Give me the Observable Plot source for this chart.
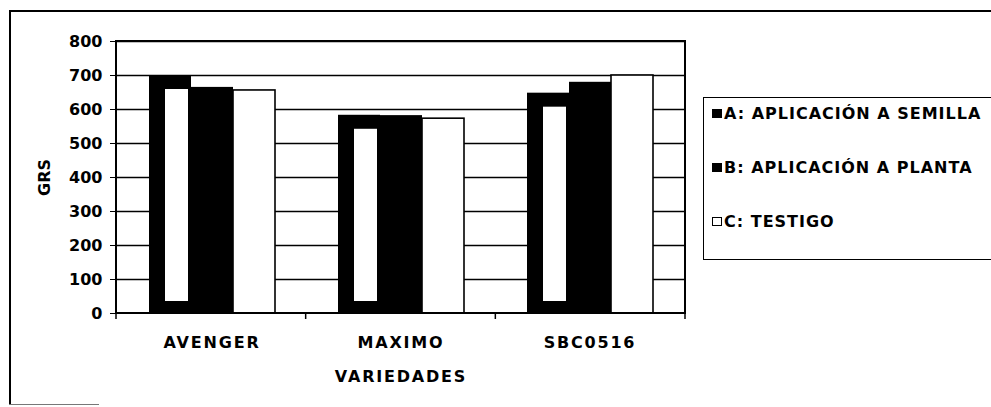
<!DOCTYPE html>
<html>
<head>
<meta charset="utf-8">
<script src="https://cdn.jsdelivr.net/npm/d3@7"></script>
<script src="https://cdn.jsdelivr.net/npm/@observablehq/plot@0.6"></script>
<style>
  html, body { margin: 0; padding: 0; background: #fff; width: 991px; height: 407px; overflow: hidden; }
  #frame { position: absolute; left: 9px; top: 10px; width: 1000px; height: 393px; border-top: 2px solid #000; border-left: 2px solid #000; }
  #bottomseg { position: absolute; left: 9px; top: 404px; width: 90px; height: 0; border-top: 1px solid #777; }
  #chart { position: absolute; left: 0; top: 0; }
  #chart svg { overflow: visible; }
  #chart [aria-label^="fx-axis"] text { letter-spacing: 1.8px; }
  #legend { position: absolute; left: 703px; top: 97px; width: 320px; height: 161px; border: 1.5px solid #000; background: #fff;
            font-family: "DejaVu Sans", sans-serif; font-weight: bold; font-size: 16px; letter-spacing: 1px; color: #000; }
  .item { position: absolute; left: 8px; height: 20px; display: flex; align-items: center; white-space: nowrap; }
  .sw { width: 10px; height: 9px; margin-right: 2px; box-sizing: border-box; border: 1.5px solid #000; }
</style>
</head>
<body>
<div id="frame"></div>
<div id="bottomseg"></div>
<div id="chart"></div>
<div id="legend"></div>
<script>
const categories = ["AVENGER", "MAXIMO", "SBC0516"];
const series = ["A", "B", "C"];
const seriesLabels = ["A: APLICACIÓN A SEMILLA", "B: APLICACIÓN A PLANTA", "C: TESTIGO"];
const seriesColors = ["#000", "#000", "#fff"];
const valuesA = [700, 583, 648];
const valuesB = [665, 582, 680];
const valuesC = [656, 573, 700];
const yTicks = [0, 100, 200, 300, 400, 500, 600, 700, 800];

const seriesValues = [valuesA, valuesB, valuesC];
const rows = categories.flatMap((cat, i) =>
  series.map((s, j) => ({cat, series: s, value: seriesValues[j][i]})));

const plot = Plot.plot({
  width: 700,
  height: 407,
  marginLeft: 116,
  marginTop: 41,
  marginRight: 15,
  marginBottom: 94,
  style: {fontFamily: "DejaVu Sans", fontSize: "16px", fontWeight: "bold", background: "transparent", color: "#000"},
  facet: {data: rows, x: "cat"},
  fx: {domain: categories, padding: 0, axis: "bottom", tickSize: 0, tickPadding: 23,
       label: "VARIEDADES", labelAnchor: "center", labelOffset: 68, labelArrow: false},
  x: {domain: series, axis: null, paddingInner: 0, paddingOuter: 0.7},
  y: {domain: [0, 800], ticks: yTicks, tickSize: 7, tickPadding: 8,
      label: "GRS", labelAnchor: "center", labelOffset: 79, labelArrow: false},
  color: {domain: series, range: seriesColors},
  marks: [
    Plot.ruleY(yTicks.filter(t => t > 0), {stroke: "#000", strokeWidth: 1.5}),
    Plot.barY(rows, {x: "series", y: "value", fill: "series",
      stroke: d => d.series === "C" ? "#000" : "none", strokeWidth: 1.6}),
    Plot.barY(rows, {filter: d => d.series === "A", x: "series", y: "value", fill: "#fff",
      insetLeft: 16, insetRight: 3, insetTop: 14, insetBottom: 12})
  ]
});
document.getElementById("chart").appendChild(plot);

// plot-area box and category boundary ticks, derived from the plot's own scales
const fxR = plot.scale("fx").range;
const yR = plot.scale("y").range;
const svg = d3.select(plot.tagName.toLowerCase() === "svg" ? plot : plot.querySelector("svg"));
const x0 = Math.min(...fxR), x1 = Math.max(...fxR);
const yTop = Math.min(...yR), yBot = Math.max(...yR);
svg.append("rect").attr("x", x0).attr("y", yTop).attr("width", x1 - x0).attr("height", yBot - yTop)
  .attr("fill", "none").attr("stroke", "#000").attr("stroke-width", 2);
const band = d3.scaleBand().domain(categories).range([x0, x1]);
const bounds = categories.map(c => band(c)).concat([x1]);
svg.append("g").selectAll("line").data(bounds).join("line")
  .attr("x1", d => d).attr("x2", d => d).attr("y1", yBot).attr("y2", yBot + 6)
  .attr("stroke", "#000").attr("stroke-width", 1.5);

// legend
const legend = document.getElementById("legend");
series.forEach((s, j) => {
  const item = document.createElement("div");
  item.className = "item";
  item.style.top = (5 + j * 54) + "px";
  const sw = document.createElement("div");
  sw.className = "sw";
  sw.style.background = seriesColors[j];
  item.appendChild(sw);
  const t = document.createElement("span");
  t.textContent = seriesLabels[j];
  item.appendChild(t);
  legend.appendChild(item);
});
</script>
</body>
</html>
